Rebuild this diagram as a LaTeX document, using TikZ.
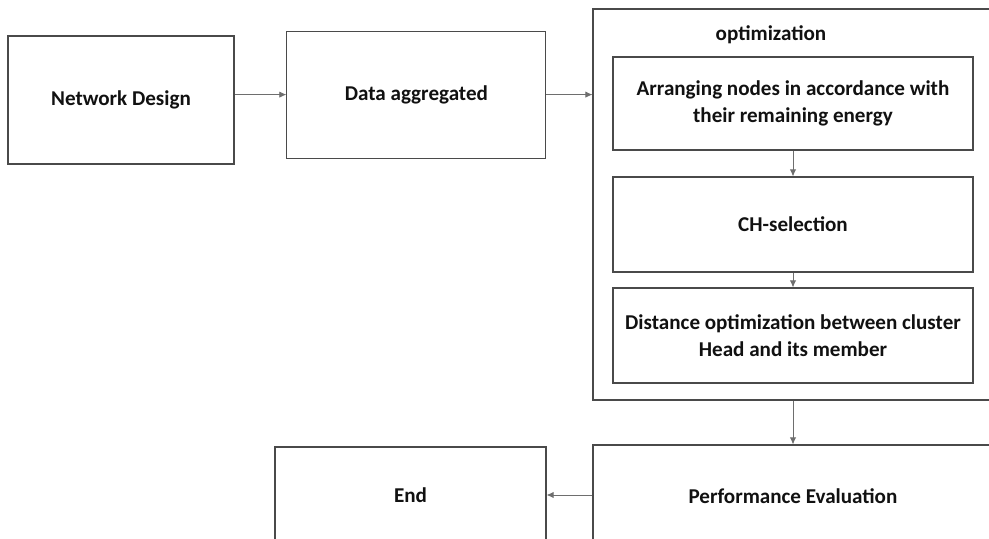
\documentclass[tikz,border=0pt]{standalone}
\usepackage{fontspec}
\setmainfont{Carlito}
\usepackage{xcolor}
\usepackage{tikz}
\usetikzlibrary{arrows.meta,positioning,calc}
\definecolor{cInk}{HTML}{111111}
\definecolor{cEdge}{HTML}{4A4A4A}
\definecolor{cArr}{HTML}{6E6E6E}
\tikzset{
  fbox/.style={draw=cEdge,fill=white,line width=0.8pt,align=center,text=cInk,
    font=\fontsize{15}{19.5}\selectfont\bfseries,inner sep=4pt},
  arr/.style={-{Latex[length=5pt,width=4.5pt]},line width=0.6pt,color=cArr},
  lbl/.style={font=\fontsize{15}{18}\selectfont\bfseries,text=cInk,inner sep=1pt},
}
\begin{document}
\begin{tikzpicture}[x=1cm,y=1cm]
  \clip (0,0) rectangle (24.725,13.475);
  \fill[white] (0,0) rectangle (24.725,13.475);
  % top row
  \node[fbox,minimum width=5.65cm,minimum height=3.2cm] (nd) at (3.025,10.975) {Network Design};
  \node[fbox,minimum width=6.475cm,minimum height=3.175cm] (da) at (10.41,11.11) {Data aggregated};
  % optimization block
  \node[fbox,minimum width=10cm,minimum height=9.775cm] (opt) at (19.825,8.3625) {};
  \node[lbl] (optl) at (19.275,12.6) {optimization};
  \node[fbox,minimum width=9cm,minimum height=2.325cm] (arng) at (19.825,10.8875) {Arranging nodes in accordance with\\ their remaining energy};
  \node[fbox,minimum width=9cm,minimum height=2.375cm] (chs) at (19.825,7.8625) {CH-selection};
  \node[fbox,minimum width=9cm,minimum height=2.375cm] (dist) at (19.825,5.0875) {Distance optimization between cluster\\ Head and its member};
  % bottom row
  \node[fbox,minimum width=10cm,minimum height=2.55cm] (pe) at (19.825,1.075) {Performance Evaluation};
  \node[fbox,minimum width=6.775cm,minimum height=2.4cm] (end) at (10.2625,1.1) {End};
  \draw[arr] (nd.east |- da) -- (da.west);
  \draw[arr] (da.east) -- (da.east -| opt.west);
  \draw[arr] (arng) -- (chs);
  \draw[arr] (chs) -- (dist);
  \draw[arr] (opt) -- (pe);
  \draw[arr] (pe.west |- end) -- (end.east);
\end{tikzpicture}
\end{document}
